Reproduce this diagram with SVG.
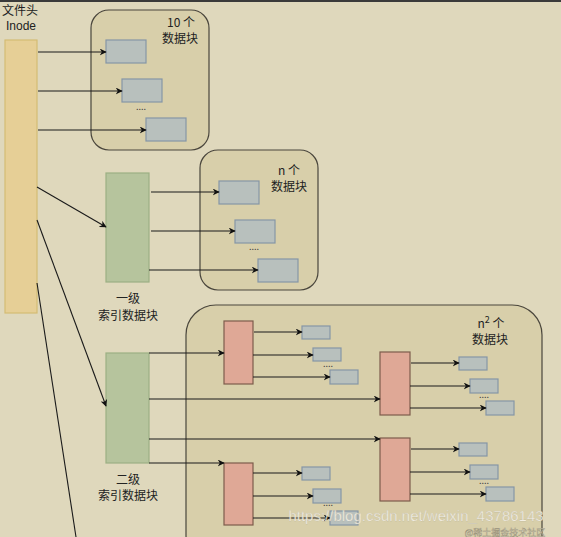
<svg xmlns="http://www.w3.org/2000/svg" width="561" height="537" viewBox="0 0 561 537">
<defs>
<marker id="ah" viewBox="0 0 10 10" refX="9" refY="5" markerWidth="7" markerHeight="7" orient="auto" markerUnits="userSpaceOnUse"><path d="M0,0 L10,5 L0,10 L3,5 Z" fill="#111"/></marker>
<style>
text{font-family:"Noto Sans CJK SC","Liberation Sans",sans-serif;font-size:12px;fill:#222;text-anchor:middle}
.grp{fill:#d8cfaa;stroke:#4a463c;stroke-width:1.2}
.blk{fill:#b8c0bd;stroke:#8596a6;stroke-width:1.2}
.pink{fill:#dfa896;stroke:#7d5c4c;stroke-width:1.2}
.green{fill:#b6c49d;stroke:#9cb084;stroke-width:1.2}
.c line{stroke:#1a1a1a;stroke-width:1.1;marker-end:url(#ah)}
.dots{font-size:9px;fill:#444}
.wm{fill:#f6f3ea;stroke:#b7b097;stroke-width:0.25}
.wm2{fill:#ece7d6;stroke:#8f8870;stroke-width:0.4}
</style>
</defs>
<rect width="561" height="537" fill="#dfd8bc"/>
<rect width="561" height="2" fill="#3a3a3a"/>

<g id="inode">
<rect x="5" y="40" width="32" height="273" fill="#e6cf96" stroke="#d4bc74" stroke-width="1.2"/>
<text x="20" y="15">文件头</text>
<text x="21" y="30" style="font-family:'Liberation Sans',sans-serif">Inode</text>
</g>

<g id="group10">
<rect class="grp" x="91" y="10" width="118" height="140" rx="18"/>
<text x="181" y="27">10 个</text>
<text x="180" y="43">数据块</text>
<rect class="blk" x="106" y="40" width="40" height="23"/>
<rect class="blk" x="122" y="79" width="40" height="23"/>
<rect class="blk" x="146" y="118" width="40" height="23"/>
<text class="dots" x="141" y="110">....</text>
</g>

<g id="groupN">
<rect class="grp" x="200" y="150" width="118" height="140" rx="18"/>
<text x="289" y="175">n 个</text>
<text x="289" y="191">数据块</text>
<rect class="blk" x="219" y="181" width="40" height="23"/>
<rect class="blk" x="235" y="220" width="40" height="23"/>
<rect class="blk" x="258" y="259" width="40" height="23"/>
<text class="dots" x="254" y="250">....</text>
</g>

<g id="index1">
<rect class="green" x="106" y="173" width="43" height="109"/>
<text x="128" y="303">一级</text>
<text x="128" y="320">索引数据块</text>
</g>

<g id="groupN2">
<rect class="grp" x="186" y="305" width="356" height="260" rx="30"/>
<text x="491" y="328">n<tspan font-size="9" dy="-5">2</tspan><tspan dy="5"> 个</tspan></text>
<text x="490" y="344">数据块</text>
<rect class="pink" x="224" y="321" width="29" height="63"/>
<rect class="pink" x="224" y="463" width="29" height="62"/>
<rect class="pink" x="380" y="352" width="30" height="63"/>
<rect class="pink" x="380" y="438" width="30" height="63"/>
<rect class="blk" x="302" y="326" width="28" height="13"/>
<rect class="blk" x="313" y="348" width="28" height="13"/>
<rect class="blk" x="330" y="370" width="28" height="14"/>
<text class="dots" x="328" y="367">....</text>
<rect class="blk" x="459" y="357" width="28" height="13"/>
<rect class="blk" x="470" y="379" width="28" height="14"/>
<rect class="blk" x="486" y="401" width="28" height="14"/>
<text class="dots" x="484" y="398">....</text>
<rect class="blk" x="459" y="443" width="28" height="13"/>
<rect class="blk" x="470" y="465" width="28" height="14"/>
<rect class="blk" x="486" y="487" width="28" height="14"/>
<text class="dots" x="484" y="484">....</text>
<rect class="blk" x="302" y="467" width="28" height="13"/>
<rect class="blk" x="313" y="489" width="28" height="14"/>
<rect class="blk" x="330" y="511" width="28" height="14"/>
<text class="dots" x="328" y="505.5">....</text>
</g>

<g id="index2">
<rect class="green" x="106" y="353" width="43" height="110"/>
<text x="128" y="484">二级</text>
<text x="128" y="500">索引数据块</text>
</g>

<g id="connectors" class="c">
<line x1="38" y1="52" x2="106" y2="52"/>
<line x1="38" y1="91" x2="122" y2="91"/>
<line x1="38" y1="130" x2="146" y2="130"/>
<line x1="37" y1="187" x2="106" y2="227"/>
<line x1="37" y1="220" x2="106" y2="406"/>
<line x1="37" y1="283" x2="76" y2="537" style="marker-end:none"/>
<line x1="151" y1="192" x2="219" y2="192"/>
<line x1="151" y1="231" x2="235" y2="231"/>
<line x1="149" y1="270" x2="258" y2="270"/>
<line x1="149" y1="353" x2="224" y2="353"/>
<line x1="149" y1="399" x2="380" y2="399"/>
<line x1="149" y1="439" x2="380" y2="439"/>
<line x1="149" y1="463" x2="224" y2="463"/>
<line x1="254" y1="332" x2="302" y2="332"/>
<line x1="253" y1="355" x2="313" y2="355"/>
<line x1="253" y1="377" x2="330" y2="377"/>
<line x1="411" y1="363" x2="459" y2="363"/>
<line x1="410" y1="386" x2="470" y2="386"/>
<line x1="410" y1="408" x2="486" y2="408"/>
<line x1="411" y1="449" x2="459" y2="449"/>
<line x1="410" y1="472" x2="470" y2="472"/>
<line x1="410" y1="494" x2="486" y2="494"/>
<line x1="253" y1="473" x2="302" y2="473"/>
<line x1="253" y1="496" x2="313" y2="496"/>
<line x1="253" y1="518" x2="330" y2="518"/>
</g>

<g id="watermark" opacity="0.9">
<text class="wm" x="416" y="521" style="font-family:'Liberation Sans',sans-serif;font-size:15px">https://blog.csdn.net/weixin_43786143</text>
<text class="wm2" x="505" y="535.5" style="font-size:9px">@稀土掘金技术社区</text>
</g>
</svg>
